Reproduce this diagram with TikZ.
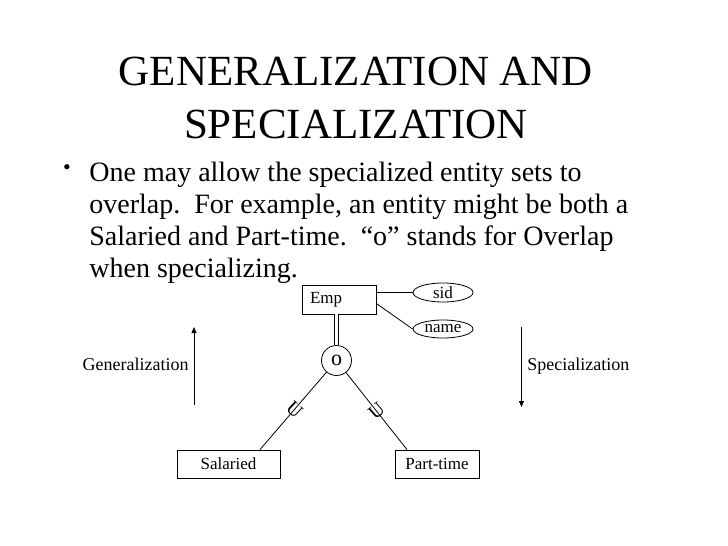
\documentclass[tikz,border=0pt]{standalone}
\usepackage{fontspec}
\setmainfont{Liberation Serif}
\usetikzlibrary{positioning,shapes.geometric,arrows.meta}

\tikzset{
    entbox/.style={draw, rectangle, inner sep=0pt, minimum height=28pt,
        font=\fontsize{17}{20}\selectfont},
    attrib/.style={draw, ellipse, inner sep=0pt, minimum width=60pt,
        minimum height=19pt, font=\fontsize{17}{20}\selectfont},
    sidelbl/.style={inner sep=0pt, font=\fontsize{18}{20}\selectfont},
    cupmark/.style={inner sep=0pt, font=\fontsize{20}{20}\selectfont},
    genarrow/.style={-{Triangle[length=6pt,width=5pt]}},
}

\begin{document}
\begin{tikzpicture}[x=1pt,y=-1pt,line width=0.8pt]

    \useasboundingbox[fill=white] (0,0) rectangle (728,546);

    % Titulo
    \node[anchor=base, inner sep=0pt, align=center,
          font=\fontsize{43}{53}\selectfont] (title) at (356,138)
        {GENERALIZATION AND\\SPECIALIZATION};

    % Texto con vineta
    \node[anchor=base, inner sep=0pt, font=\fontsize{22}{22}\selectfont]
        (bullet) at (67,174) {•};
    \node[anchor=base west, inner sep=0pt, align=left,
          font=\fontsize{28}{32}\selectfont] (body) at (89,277)
        {One may allow the specialized entity sets to\\
         overlap.\ \ For example, an entity might be both a\\
         Salaried and Part-time.\ \ “o” stands for Overlap\\
         when specializing.};

    % Entidades y atributos
    \node[entbox, minimum height=29pt, text width=58pt, inner xsep=8pt,
          align=left] (emp) at (339,299.5) {Emp};
    \node[attrib] (sid) at (443,292.5) {sid};
    \node[attrib, minimum height=18pt] (name) at (443,329) {name};
    \node[draw, circle, minimum size=30pt, inner sep=0pt,
          font=\fontsize{22}{22}\selectfont] (ov) at (336.5,360.5) {o};
    \node[entbox, minimum width=103pt] (sal) at (228.5,464) {Salaried};
    \node[entbox, minimum width=84pt] (pt) at (437,464) {Part-time};

    \draw (emp.east |- sid) -- (sid);
    \draw ([yshift=-4pt]emp.east) -- (name.west);
    \draw[double, double distance=3pt, line width=0.7pt] (emp.south -| ov) -- (ov);

    % Subclases
    \draw (ov) -- ([xshift=31.5pt]sal.north)
        node[cupmark, pos=0.48, rotate=-43] (cupsal) {U};
    \draw (ov) -- ([xshift=-30pt]pt.north)
        node[cupmark, pos=0.5, rotate=41] (cuppt) {U};

    % Flechas
    \coordinate (gen-s) at (194,405);
    \coordinate (gen-e) at (194,327);
    \draw[genarrow] (gen-s) -- (gen-e);
    \node[sidelbl, anchor=base east] (genlbl) at (189,370) {Generalization};

    \coordinate (spec-s) at (521.5,327);
    \coordinate (spec-e) at (521.5,407);
    \draw[genarrow] (spec-s) -- (spec-e);
    \node[sidelbl, anchor=base west] (speclbl) at (527,370) {Specialization};

\end{tikzpicture}
\end{document}
